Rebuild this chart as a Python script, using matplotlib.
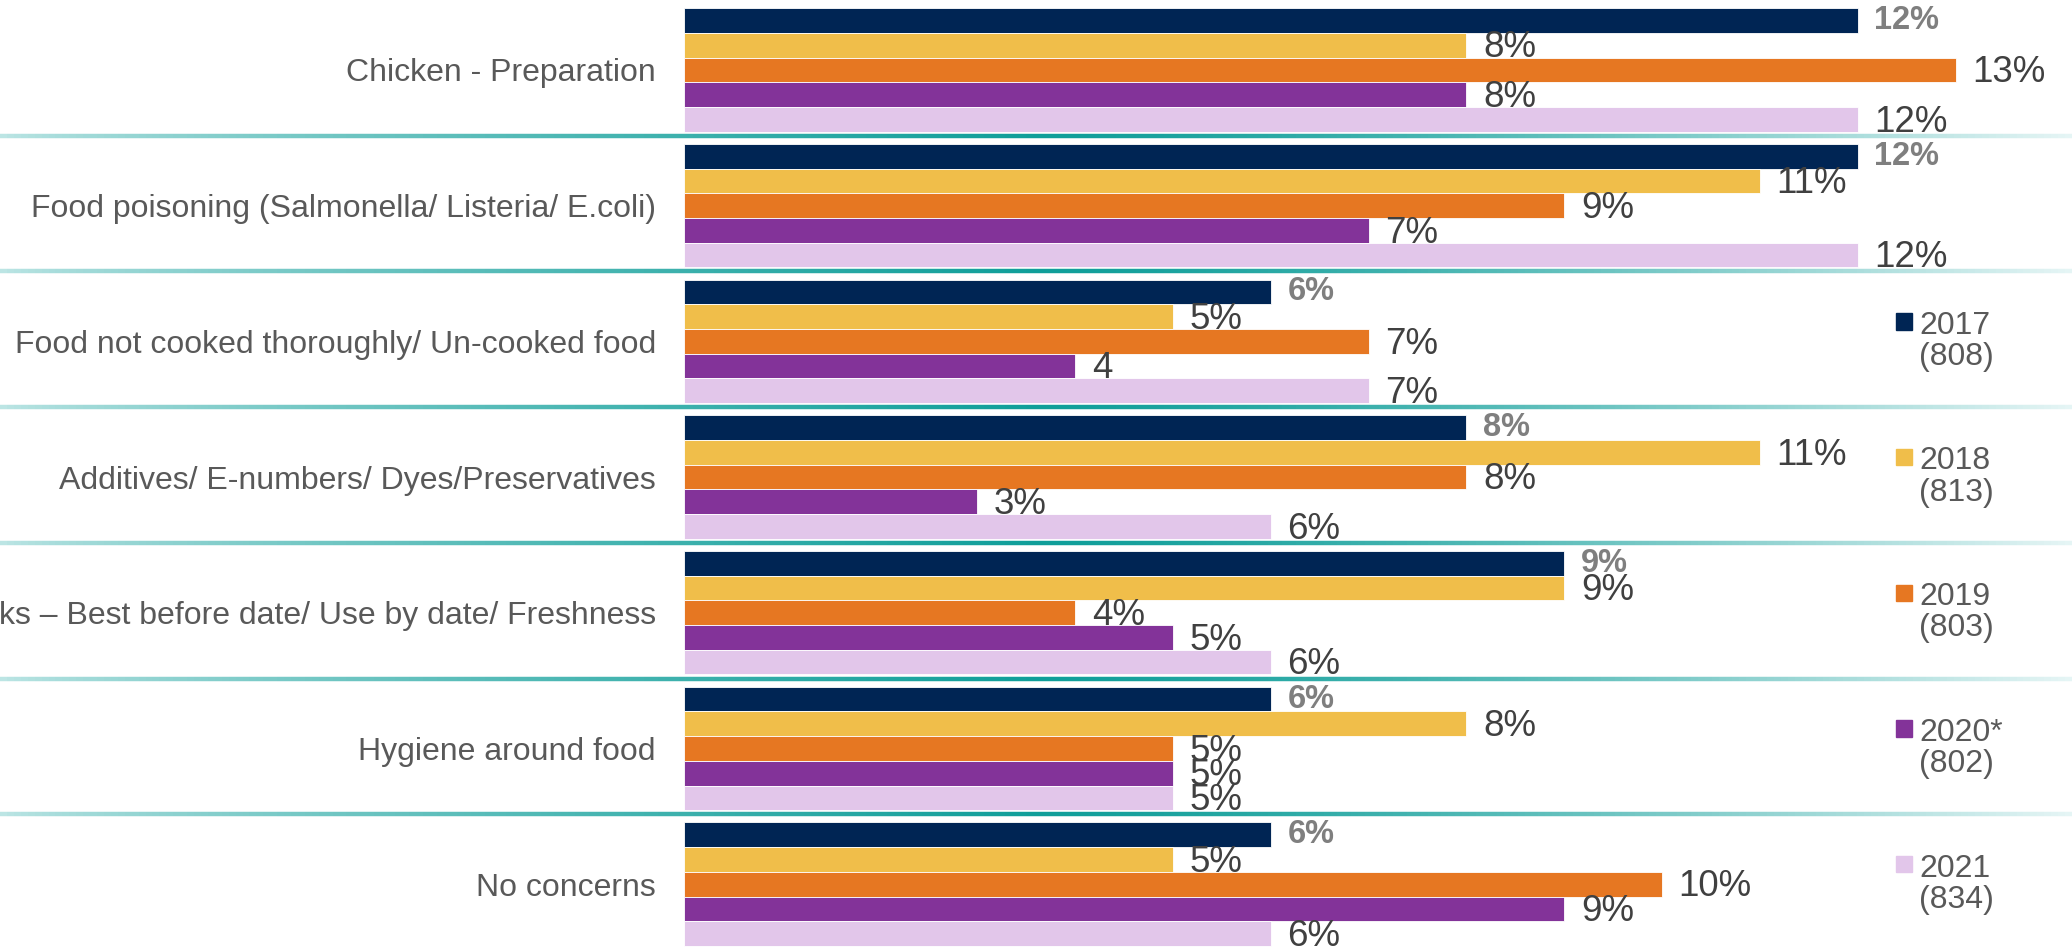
import numpy as np
import matplotlib
matplotlib.use("Agg")
import matplotlib.pyplot as plt
from matplotlib.collections import LineCollection
from matplotlib.colors import to_rgb
from matplotlib.patches import Rectangle
from matplotlib.transforms import blended_transform_factory

plt.rcParams['font.family'] = ['Liberation Sans', 'DejaVu Sans']

categorias = [
    "Chicken - Preparation",
    "Food poisoning (Salmonella/ Listeria/ E.coli)",
    "Food not cooked thoroughly/ Un-cooked food",
    "Additives/ E-numbers/ Dyes/Preservatives",
    "Out of date food/ drinks \u2013 Best before date/ Use by date/ Freshness",
    "Hygiene around food",
    "No concerns",
]
anos = ["2017", "2018", "2019", "2020*", "2021"]
bases = ["(808)", "(813)", "(803)", "(802)", "(834)"]
cores = ["#002554", "#f0be4a", "#e67722", "#833399", "#e2c6ea"]

v2017 = [12, 12, 6, 8, 9, 6, 6]
v2018 = [8, 11, 5, 11, 9, 8, 5]
v2019 = [13, 9, 7, 8, 4, 5, 10]
v2020 = [8, 7, 4, 3, 5, 5, 9]
v2021 = [12, 12, 7, 6, 6, 5, 6]
valores = [v2017, v2018, v2019, v2020, v2021]

# rotulos: 2020 em "Food not cooked" aparece sem o sinal de %
rotulos = [[f"{v}%" for v in serie] for serie in valores]
rotulos[3][2] = "4"

fig = plt.figure(figsize=(20.72, 9.47), dpi=100)
ax = fig.add_axes([0.33, 0.0, 0.661, 1.0])

y = np.arange(len(categorias))
altura = 0.182
for j, serie in enumerate(valores):
    barras = ax.barh(y + (j - 2) * altura, serie, height=altura, color=cores[j],
                     edgecolor="white", linewidth=0.6)
    if j == 0:
        ax.bar_label(barras, labels=rotulos[j], padding=12, fontsize=23.5,
                     fontweight="bold", color="#7f7f7f")
    else:
        textos = ax.bar_label(barras, labels=rotulos[j], padding=12, fontsize=26.5,
                              color="#404040")
        for t in textos:
            t.xyann = (12, -2)

ax.set_xlim(0, 14)
ax.set_ylim(6.463, -0.515)
ax.set_yticks(y)
ax.set_yticklabels(categorias, fontsize=23, color="#595959")
ax.tick_params(axis="y", length=0, pad=20)
ax.set_xticks([])
for lado in ax.spines.values():
    lado.set_visible(False)

# linhas separadoras com degradê (claro - verde-água - claro)
trans = blended_transform_factory(fig.transFigure, ax.transData)
xs = np.linspace(0, 1, 300)
escuro = np.array(to_rgb("#0f9e99"))
claro_esq = np.array(to_rgb("#bfe6e5"))
claro_dir = np.array(to_rgb("#e6f5f5"))
pico = 0.5
cores_linha = []
for xm in (xs[:-1] + xs[1:]) / 2:
    if xm < pico:
        t = (xm / pico) ** 0.7
        c = claro_esq * (1 - t) + escuro * t
    else:
        t = ((xm - pico) / (1 - pico)) ** 1.4
        c = escuro * (1 - t) + claro_dir * t
    cores_linha.append(c)
for i in range(len(categorias) - 1):
    yy = i + 0.485
    segs = [[(xs[k], yy), (xs[k + 1], yy)] for k in range(len(xs) - 1)]
    lc = LineCollection(segs, colors=cores_linha, linewidths=3.2,
                        transform=trans, clip_on=False, capstyle="butt")
    ax.add_collection(lc)

# legenda ao lado das ultimas cinco categorias
for j, (ano, base) in enumerate(zip(anos, bases)):
    yc = j + 2
    ax.add_patch(Rectangle((1896 / 2072, yc - 0.147 - 0.06), 16 / 2072, 0.12,
                           transform=trans, color=cores[j], clip_on=False))
    ax.text(1919 / 2072, yc, f"{ano}\n{base}", transform=trans, fontsize=23,
            color="#595959", va="center", ha="left", linespacing=1.05)

fig.savefig("out.png", dpi=100)
